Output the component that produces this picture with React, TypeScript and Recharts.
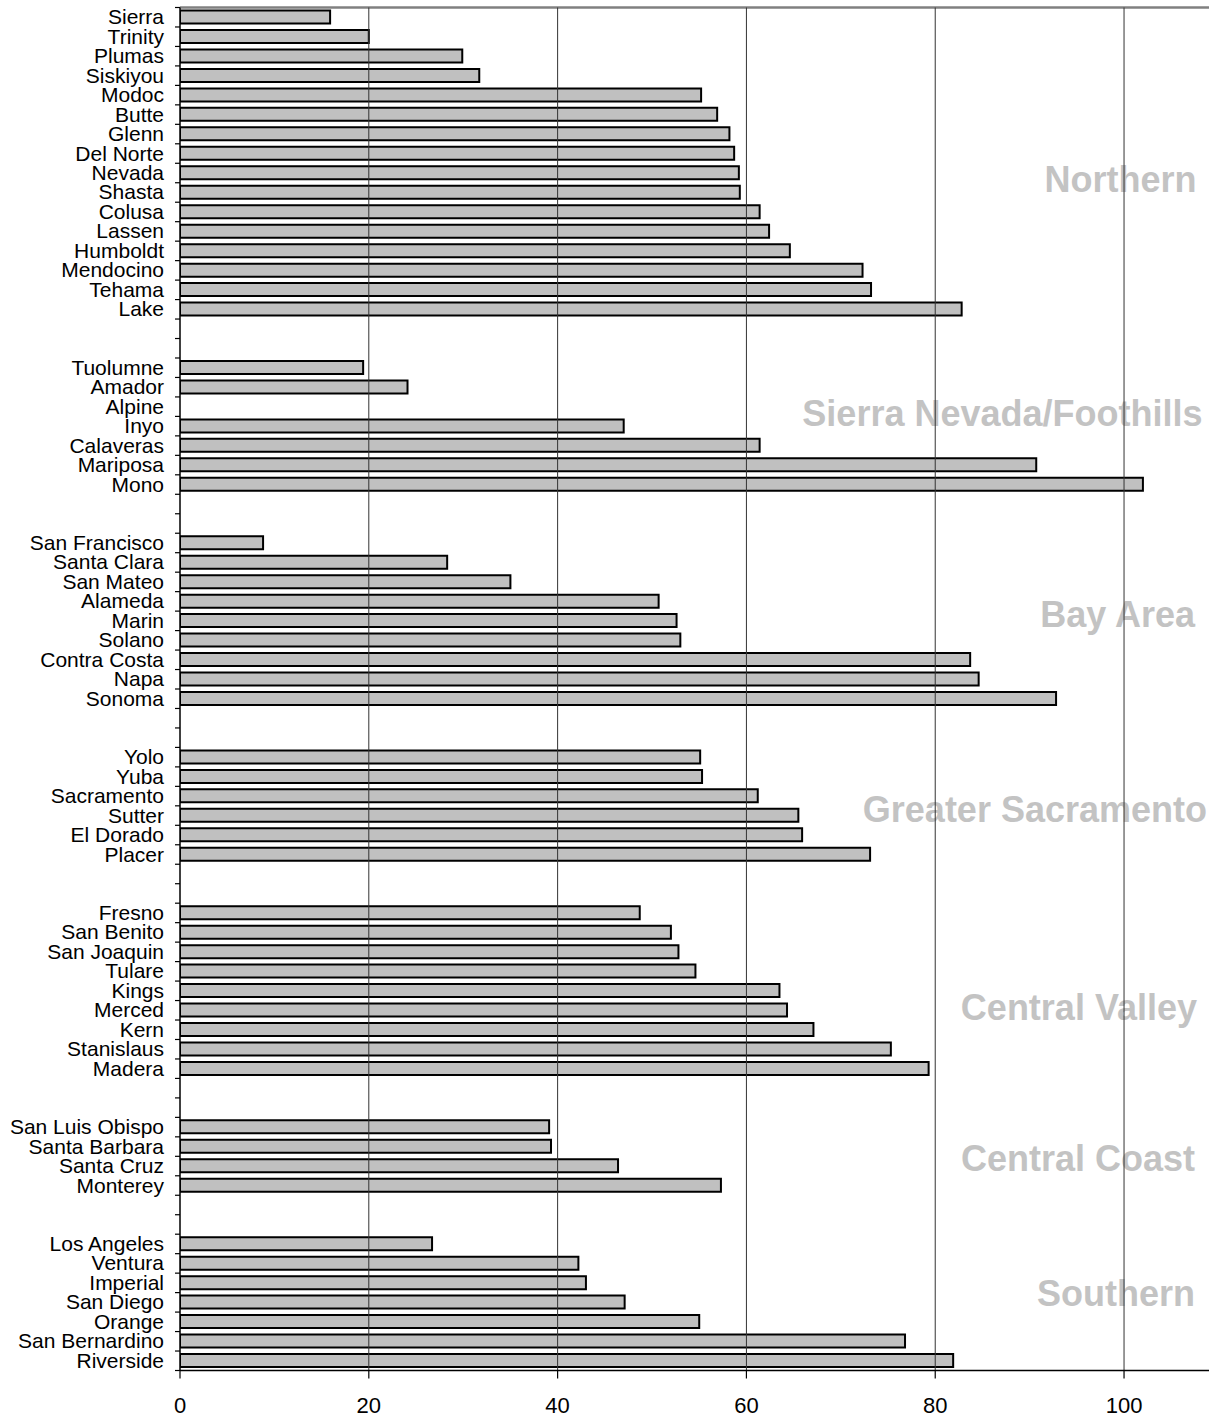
import React from 'react';
import { BarChart, Bar, XAxis, YAxis, ReferenceLine, CartesianGrid } from 'recharts';

// ---- Data ----
const northernCounties = ['Sierra', 'Trinity', 'Plumas', 'Siskiyou', 'Modoc', 'Butte', 'Glenn', 'Del Norte', 'Nevada', 'Shasta', 'Colusa', 'Lassen', 'Humboldt', 'Mendocino', 'Tehama', 'Lake'];
const northernValues = [15.9, 20.0, 29.9, 31.7, 55.2, 56.9, 58.2, 58.7, 59.2, 59.3, 61.4, 62.4, 64.6, 72.3, 73.2, 82.8];

const sierraCounties = ['Tuolumne', 'Amador', 'Alpine', 'Inyo', 'Calaveras', 'Mariposa', 'Mono'];
const sierraValues = [19.4, 24.1, null, 47.0, 61.4, 90.7, 102.0];

const bayCounties = ['San Francisco', 'Santa Clara', 'San Mateo', 'Alameda', 'Marin', 'Solano', 'Contra Costa', 'Napa', 'Sonoma'];
const bayValues = [8.8, 28.3, 35.0, 50.7, 52.6, 53.0, 83.7, 84.6, 92.8];

const sacCounties = ['Yolo', 'Yuba', 'Sacramento', 'Sutter', 'El Dorado', 'Placer'];
const sacValues = [55.1, 55.3, 61.2, 65.5, 65.9, 73.1];

const cvCounties = ['Fresno', 'San Benito', 'San Joaquin', 'Tulare', 'Kings', 'Merced', 'Kern', 'Stanislaus', 'Madera'];
const cvValues = [48.7, 52.0, 52.8, 54.6, 63.5, 64.3, 67.1, 75.3, 79.3];

const ccCounties = ['San Luis Obispo', 'Santa Barbara', 'Santa Cruz', 'Monterey'];
const ccValues = [39.1, 39.3, 46.4, 57.3];

const southCounties = ['Los Angeles', 'Ventura', 'Imperial', 'San Diego', 'Orange', 'San Bernardino', 'Riverside'];
const southValues = [26.7, 42.2, 43.0, 47.1, 55.0, 76.8, 81.9];

const regionNames = ['Northern', 'Sierra Nevada/Foothills', 'Bay Area', 'Greater Sacramento', 'Central Valley', 'Central Coast', 'Southern'];
const xTicks = [0, 20, 40, 60, 80, 100];

const groups = [
  { counties: northernCounties, values: northernValues },
  { counties: sierraCounties, values: sierraValues },
  { counties: bayCounties, values: bayValues },
  { counties: sacCounties, values: sacValues },
  { counties: cvCounties, values: cvValues },
  { counties: ccCounties, values: ccValues },
  { counties: southCounties, values: southValues },
];

type Row = { id: string; label: string; value: number | null };
const rows: Row[] = [];
groups.forEach((g, gi) => {
  if (gi > 0) {
    rows.push({ id: `gap-${gi}-a`, label: '', value: null });
    rows.push({ id: `gap-${gi}-b`, label: '', value: null });
  }
  g.counties.forEach((c, i) => rows.push({ id: c, label: c, value: g.values[i] }));
});
const labelById: Record<string, string> = {};
rows.forEach((r) => (labelById[r.id] = r.label));

// ---- Layout ----
const CHART_W = 1209;
const CHART_H = 1418;
const MARGIN_TOP = 7.5;
const X_AXIS_H = 47.5;
const Y_AXIS_W = 180;
const PLOT_H = CHART_H - MARGIN_TOP - X_AXIS_H;
const HALF_BAND = PLOT_H / rows.length / 2;
const FONT = '"Liberation Sans", Arial, Helvetica, sans-serif';

// region label placement: anchor row, right inset, baseline offset
const regionLayout = [
  { anchor: 'Shasta', right: 12.5, dy: -0.8 },
  { anchor: 'Inyo', right: 6.5, dy: -0.4 },
  { anchor: 'Marin', right: 14, dy: 6.2 },
  { anchor: 'Sutter', right: 2, dy: 6.5 },
  { anchor: 'Merced', right: 12, dy: 9.7 },
  { anchor: 'Santa Cruz', right: 14, dy: 5 },
  { anchor: 'San Diego', right: 14, dy: 3.7 },
];

const YTick = (props: any) => {
  const { x, y, payload, index } = props;
  const isLast = index === rows.length - 1;
  return (
    <g>
      <line x1={x - 5} x2={x} y1={y - HALF_BAND} y2={y - HALF_BAND} stroke="#000" strokeWidth={1.2} />
      {isLast && <line x1={x - 5} x2={x} y1={y + HALF_BAND} y2={y + HALF_BAND} stroke="#000" strokeWidth={1.2} />}
      <text x={x - 16} y={y} dy={7} textAnchor="end" fontSize={21} fill="#000" fontFamily={FONT}>
        {labelById[payload.value]}
      </text>
    </g>
  );
};

const RegionLabel = (props: any) => {
  const { viewBox, text, right, dy } = props;
  if (!viewBox) return null;
  return (
    <text
      x={viewBox.x + viewBox.width - right}
      y={viewBox.y + dy}
      textAnchor="end"
      fontSize={36}
      fontWeight="bold"
      fill="#c3c3c3"
      fontFamily={FONT}
    >
      {text}
    </text>
  );
};

export default function App() {
  return (
    <div style={{ position: 'absolute', left: 0, top: 0, width: CHART_W, height: CHART_H, fontFamily: FONT, background: '#fff' }}>
      <BarChart
        width={CHART_W}
        height={CHART_H}
        data={rows}
        layout="vertical"
        margin={{ top: MARGIN_TOP, right: 0, bottom: 0, left: 0 }}
      >
        <CartesianGrid
          vertical={false}
          horizontal
          stroke="#808080"
          strokeWidth={2.4}
          horizontalCoordinatesGenerator={(p: any) => [p.offset.top]}
        />
        <XAxis
          type="number"
          domain={[0, 109]}
          allowDataOverflow
          ticks={xTicks}
          interval={0}
          height={X_AXIS_H}
          tickSize={8}
          tickMargin={19}
          axisLine={{ stroke: '#000', strokeWidth: 1.5 }}
          tickLine={{ stroke: '#000', strokeWidth: 1.2 }}
          tick={{ fontSize: 22, fill: '#000', fontFamily: FONT }}
        />
        <YAxis
          type="category"
          dataKey="id"
          width={Y_AXIS_W}
          interval={0}
          tickSize={0}
          tickMargin={0}
          tickLine={false}
          axisLine={{ stroke: '#000', strokeWidth: 1.5 }}
          tick={<YTick />}
        />
        {regionNames.map((name, i) => (
          <ReferenceLine
            key={name}
            y={regionLayout[i].anchor}
            stroke="none"
            label={<RegionLabel text={name} right={regionLayout[i].right} dy={regionLayout[i].dy} />}
          />
        ))}
        <Bar dataKey="value" fill="#c0c0c0" stroke="#000" strokeWidth={2} barSize={13} isAnimationActive={false} />
        {xTicks.filter((t) => t > 0).map((t) => (
          <ReferenceLine key={`g${t}`} x={t} stroke="#333" strokeWidth={1} />
        ))}
      </BarChart>
    </div>
  );
}
